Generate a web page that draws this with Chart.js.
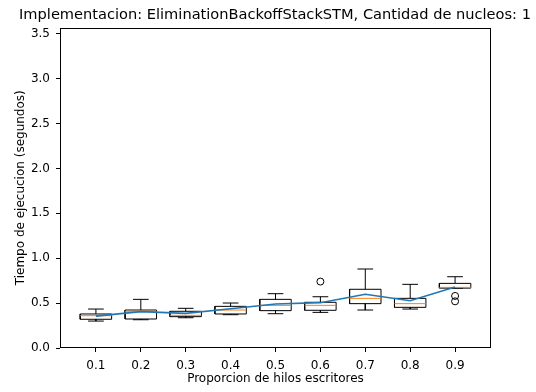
<!DOCTYPE html>
<html>
<head>
<meta charset="utf-8">
<script src="https://cdn.jsdelivr.net/npm/chart.js@4/dist/chart.umd.min.js"></script>
<style>
  html, body { margin: 0; padding: 0; background: #fff; }
  #chart { display: block; }
</style>
</head>
<body>
<canvas id="chart" width="536" height="392"></canvas>
<script>
// proporcion de hilos escritores
const categories = ["0.1", "0.2", "0.3", "0.4", "0.5", "0.6", "0.7", "0.8", "0.9"];
// boxplot stats, seconds
const whiskerLow  = [0.300, 0.315, 0.337, 0.371, 0.382, 0.397, 0.423, 0.434, 0.667];
const q1          = [0.320, 0.323, 0.349, 0.379, 0.416, 0.420, 0.494, 0.453, 0.667];
const medians     = [0.360, 0.409, 0.364, 0.423, 0.475, 0.475, 0.553, 0.494, 0.675];
const q3          = [0.379, 0.423, 0.409, 0.464, 0.542, 0.509, 0.654, 0.553, 0.720];
const whiskerHigh = [0.434, 0.542, 0.442, 0.501, 0.605, 0.571, 0.880, 0.709, 0.794];
const means       = [0.355, 0.405, 0.386, 0.437, 0.490, 0.505, 0.598, 0.527, 0.680];
const outliers    = [["0.6", 0.740], ["0.9", 0.580], ["0.9", 0.520]];
const yTicks = [0, 0.5, 1, 1.5, 2, 2.5, 3, 3.5];

const BOX_HALF = 0.35, CAP_HALF = 0.175;
const pos = (i) => i + 1;
const gap = (i) => ({ x: pos(i), y: null });

const boxPts = [], medPts = [], whiskPts = [], capPts = [];
categories.forEach((c, i) => {
  const p = pos(i);
  boxPts.push({ x: p - BOX_HALF, y: q1[i] }, { x: p + BOX_HALF, y: q1[i] }, { x: p + BOX_HALF, y: q3[i] },
              { x: p - BOX_HALF, y: q3[i] }, { x: p - BOX_HALF, y: q1[i] }, gap(i));
  medPts.push({ x: p - BOX_HALF, y: medians[i] }, { x: p + BOX_HALF, y: medians[i] }, gap(i));
  whiskPts.push({ x: p, y: q3[i] }, { x: p, y: whiskerHigh[i] }, gap(i),
                { x: p, y: q1[i] }, { x: p, y: whiskerLow[i] }, gap(i));
  capPts.push({ x: p - CAP_HALF, y: whiskerHigh[i] }, { x: p + CAP_HALF, y: whiskerHigh[i] }, gap(i),
              { x: p - CAP_HALF, y: whiskerLow[i] }, { x: p + CAP_HALF, y: whiskerLow[i] }, gap(i));
});

const lineDs = (data, color, extra) => Object.assign({
  data, borderColor: color, borderWidth: 1, pointRadius: 0, tension: 0,
  spanGaps: false, fill: false, order: 2,
}, extra || {});

const frame = {
  id: "frame",
  afterDraw(chart) {
    const { ctx, chartArea: a } = chart;
    ctx.save();
    ctx.strokeStyle = "#000";
    ctx.lineWidth = 1;
    const l = Math.round(a.left) + 0.5, t = Math.round(a.top) + 0.5;
    const r = Math.round(a.right) - 0.5, b = Math.round(a.bottom) - 0.5;
    ctx.strokeRect(l, t, r - l, b - t);
    ctx.restore();
  },
};

Chart.defaults.font.family = "'DejaVu Sans', sans-serif";
Chart.defaults.color = "#000";

new Chart(document.getElementById("chart"), {
  type: "line",
  data: {
    datasets: [
      lineDs(means.map((m, i) => ({ x: pos(i), y: m })), "#1f77b4", { borderWidth: 1.6, order: 0 }),
      lineDs(boxPts, "#000"),
      lineDs(medPts, "#ff7f0e", { order: 1 }),
      lineDs(whiskPts, "#000"),
      lineDs(capPts, "#000"),
      {
        type: "scatter",
        data: outliers.map(([c, v]) => ({ x: pos(categories.indexOf(c)), y: v })),
        pointStyle: "circle", pointRadius: 3.5, borderWidth: 1,
        borderColor: "#000", backgroundColor: "rgba(0,0,0,0)", showLine: false, order: 2,
      },
    ],
  },
  options: {
    responsive: false,
    animation: false,
    events: [],
    layout: { padding: { left: 14, right: 0, top: 0, bottom: 0 } },
    plugins: {
      legend: { display: false },
      tooltip: { enabled: false },
      title: {
        display: true,
        text: "Implementacion: EliminationBackoffStackSTM, Cantidad de nucleos: 1",
        font: { size: 14.6, weight: "normal" },
        color: "#000",
        padding: { top: 6, bottom: 4 },
      },
    },
    scales: {
      x: {
        type: "linear",
        min: 0.2, max: 9.8,
        offset: false,
        afterFit: (s) => { s.height = 44; },
        afterBuildTicks: (s) => { s.ticks = categories.map((c, i) => ({ value: pos(i) })); },
        ticks: {
          font: { size: 12 }, padding: 6.5, maxRotation: 0, autoSkip: false,
          callback: (v) => categories[v - 1],
        },
        grid: { display: true, drawOnChartArea: false, tickLength: 4, color: "#000", offset: false },
        border: { display: false },
        title: { display: true, text: "Proporcion de hilos escritores", font: { size: 12 }, padding: { top: 0, bottom: 6 } },
      },
      y: {
        type: "linear",
        position: "left",
        min: 0, max: 3.57,
        afterFit: (s) => { s.width = 46; },
        afterBuildTicks: (s) => { s.ticks = yTicks.map((v) => ({ value: v })); },
        ticks: { font: { size: 12 }, padding: 6, callback: (v) => Number(v).toFixed(1) },
        grid: { display: true, drawOnChartArea: false, tickLength: 4, color: "#000" },
        border: { display: false },
        title: { display: true, text: "Tiempo de ejecucion (segundos)", font: { size: 12 }, padding: { top: 0, bottom: 0 } },
      },
      yR: {
        type: "linear",
        position: "right",
        display: true,
        afterFit: (s) => { s.width = 45; },
        ticks: { display: false },
        grid: { display: false },
        border: { display: false },
      },
    },
  },
  plugins: [frame],
});
</script>
</body>
</html>
